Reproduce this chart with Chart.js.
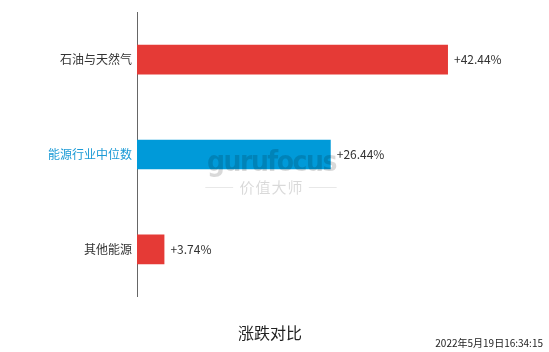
<!DOCTYPE html>
<html lang="zh">
<head>
    <meta charset="UTF-8">
    <title>涨跌对比</title>
    <script src="https://cdn.jsdelivr.net/npm/chart.js"></script>
    <style>
        body {
            margin: 0;
            padding: 0;
            background: #ffffff;
            font-family: "Noto Sans CJK SC", "Noto Sans", sans-serif;
        }

        .wrap {
            position: relative;
            width: 549px;
            height: 352px;
        }

        canvas {
            display: block;
        }

        .watermark {
            position: absolute;
            left: 204px;
            top: 148px;
            width: 135px;
            text-align: center;
            color: rgba(0, 0, 0, 0.15);
            pointer-events: none;
            line-height: 1;
        }

        .watermark .en {
            font-family: "DejaVu Sans Condensed", "Liberation Sans Narrow", sans-serif;
            font-weight: bold;
            font-size: 28px;
            letter-spacing: -1.5px;
        }

        .watermark .cn {
            font-size: 15px;
            margin-top: 3px;
            letter-spacing: 1px;
        }

        .stamp {
            position: absolute;
            right: 6px;
            top: 338px;
            font-size: 10px;
            color: #222;
            line-height: 1;
        }
    </style>
</head>
<body>
    <div class="wrap">
        <canvas id="barChart" width="549" height="352"></canvas>
        <div class="watermark">
            <div class="en">gurufocus</div>
            <div class="cn">—— 价值大师 ——</div>
        </div>
        <div class="stamp">2022年5月19日16:34:15</div>
    </div>

    <script>
        // chart data
        const categories = ["石油与天然气", "能源行业中位数", "其他能源"];
        const changes = [42.44, 26.44, 3.74];
        const barColors = ["#e53a36", "#009ad9", "#e53a36"];
        const labelColors = ["#333333", "#1a9ad6", "#333333"];

        const fontFamily = '"Noto Sans CJK SC", "Noto Sans", sans-serif';

        // draw "+xx.xx%" next to each bar
        const valueLabels = {
            id: "valueLabels",
            afterDatasetsDraw(chart) {
                const ctx = chart.ctx;
                const meta = chart.getDatasetMeta(0);
                ctx.save();
                ctx.font = "12px " + fontFamily;
                ctx.fillStyle = "#333333";
                ctx.textAlign = "left";
                ctx.textBaseline = "middle";
                meta.data.forEach((bar, i) => {
                    const v = changes[i];
                    const txt = (v >= 0 ? "+" : "") + v.toFixed(2) + "%";
                    ctx.fillText(txt, bar.x + 6, bar.y);
                });
                ctx.restore();
            }
        };

        const ctx = document.getElementById("barChart").getContext("2d");
        const chart = new Chart(ctx, {
            type: "bar",
            data: {
                labels: categories,
                datasets: [{
                    data: changes,
                    backgroundColor: barColors,
                    categoryPercentage: 1,
                    barPercentage: 0.3125
                }]
            },
            options: {
                indexAxis: "y",
                responsive: false,
                animation: false,
                layout: {
                    padding: { top: 10, right: 9, left: 0, bottom: 0 }
                },
                plugins: {
                    legend: { display: false },
                    tooltip: { enabled: false },
                    title: {
                        display: true,
                        text: "涨跌对比",
                        position: "bottom",
                        color: "#222222",
                        font: { family: fontFamily, size: 16, weight: "normal" },
                        padding: { top: 27, bottom: 9 }
                    }
                },
                scales: {
                    x: {
                        display: false,
                        min: 0,
                        max: 55
                    },
                    y: {
                        grid: { display: false, drawTicks: false },
                        border: { display: true, color: "#666666", width: 1 },
                        ticks: {
                            padding: 5,
                            color: labelColors,
                            font: { family: fontFamily, size: 12 }
                        },
                        afterFit(scale) {
                            scale.width = 137;
                        }
                    }
                }
            },
            plugins: [valueLabels]
        });
    </script>
</body>
</html>
